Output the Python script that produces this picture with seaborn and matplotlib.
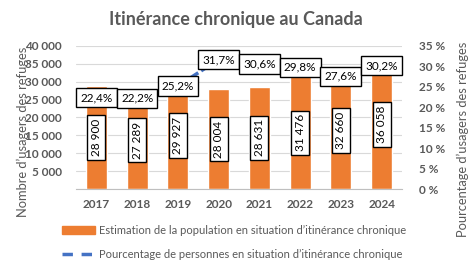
import numpy as np
import matplotlib
matplotlib.use('Agg')
import matplotlib.pyplot as plt
import seaborn as sns
from matplotlib.patches import Patch
from matplotlib.lines import Line2D
from matplotlib.ticker import FuncFormatter, MultipleLocator

years = ['2017', '2018', '2019', '2020', '2021', '2022', '2023', '2024']
population = [28900, 27289, 29927, 28004, 28631, 31476, 32660, 36058]
pourcentage = [22.4, 22.2, 25.2, 31.7, 30.6, 29.8, 27.6, 30.2]

title = 'Itinérance chronique au Canada'
left_label = 'Nombre d’usagers des refuges'
right_label = 'Pourcentage d’usagers des refuges'
bar_name = 'Estimation de la population en situation d’itinérance chronique'
line_name = 'Pourcentage de personnes en situation d’itinérance chronique'

orange = '#ED7D31'
blue = '#4472C4'
gray = '#595959'

sns.set_style('white')
plt.rcParams['font.family'] = ['Lato', 'DejaVu Sans']

fig = plt.figure(figsize=(4.72, 2.68), dpi=100)
ax = fig.add_axes([76 / 472, 1 - 189 / 268, (402 - 76) / 472, (189 - 46) / 268])

## Bars
sns.barplot(x=years, y=population, color=orange, width=0.52, saturation=1, ax=ax)
ax.set_ylim(0, 40000)
ax.yaxis.set_major_locator(MultipleLocator(5000))
ax.yaxis.set_major_formatter(FuncFormatter(lambda v, p: '' if v == 0 else f'{int(v):,}'.replace(',', ' ')))
ax.grid(axis='y', color='#D9D9D9', lw=0.8)
ax.set_axisbelow(True)
for s in ['top', 'left', 'right']:
    ax.spines[s].set_visible(False)
ax.spines['bottom'].set_color('#BFBFBF')
ax.set_xlim(-0.5, len(years) - 0.5)
ax.tick_params(axis='y', length=0, labelsize=8.5, labelcolor=gray, pad=10)
ax.tick_params(axis='x', length=0, labelsize=8.5, labelcolor=gray, pad=7)
for t in ax.get_xticklabels() + ax.get_yticklabels():
    t.set_fontweight('bold')
# category boundary ticks
ax.set_xticks(np.arange(len(years) + 1) - 0.5, minor=True)
ax.tick_params(axis='x', which='minor', length=4, color='#BFBFBF')
ax.set_ylabel(left_label, fontsize=9.3, color=gray)
ax.yaxis.set_label_coords(-0.145, 0.40)
ax.set_xlabel('')

ax.bar_label(ax.containers[0], labels=[f'{v:,}'.replace(',', ' ') for v in population],
             label_type='center', rotation=90, fontsize=8.5, color='black',
             bbox=dict(boxstyle='square,pad=0.3', fc='white', ec='black', lw=1))

## Line on secondary axis
ax2 = ax.twinx()
sns.lineplot(x=np.arange(len(years)), y=pourcentage, color=blue, lw=2.5,
             dashes=False, ax=ax2)
ax2.lines[0].set_dashes([3, 1])
ax2.set_ylim(0, 35)
ax2.yaxis.set_major_locator(MultipleLocator(5))
ax2.yaxis.set_major_formatter(FuncFormatter(lambda v, p: f'{int(v)} %'))
for s in ['top', 'left', 'right', 'bottom']:
    ax2.spines[s].set_visible(False)
ax2.tick_params(axis='y', length=0, labelsize=8.5, labelcolor=gray, pad=12)
for t in ax2.get_yticklabels():
    t.set_fontweight('bold')
ax2.set_ylabel(right_label, fontsize=9.3, color=gray)
ax2.yaxis.set_label_coords(1.167, 0.35)
for i, p in enumerate(pourcentage):
    ax2.text(i, p, f'{p:.1f}%'.replace('.', ','), ha='center', va='center',
             fontsize=8.5, color='black',
             bbox=dict(boxstyle='square,pad=0.35', fc='white', ec='black', lw=1))
ax2.set_xlim(-0.5, len(years) - 0.5)

fig.text(0.5, 1 - 20 / 268, title, ha='center', va='center', fontsize=13,
         fontweight='bold', color=gray)

handles = [Patch(color=orange, label=bar_name),
           Line2D([0], [0], color=blue, lw=2.5, dashes=[3, 2.5], label=line_name)]
leg = fig.legend(handles=handles, loc='upper left', bbox_to_anchor=(62 / 472, 1 - 225 / 268),
                 frameon=False, fontsize=8, handlelength=3.0, handleheight=0.7,
                 labelspacing=1.2, handletextpad=0.36, borderaxespad=0, borderpad=0)
for t in leg.get_texts():
    t.set_color(gray)

fig.savefig('out.png', dpi=100)
